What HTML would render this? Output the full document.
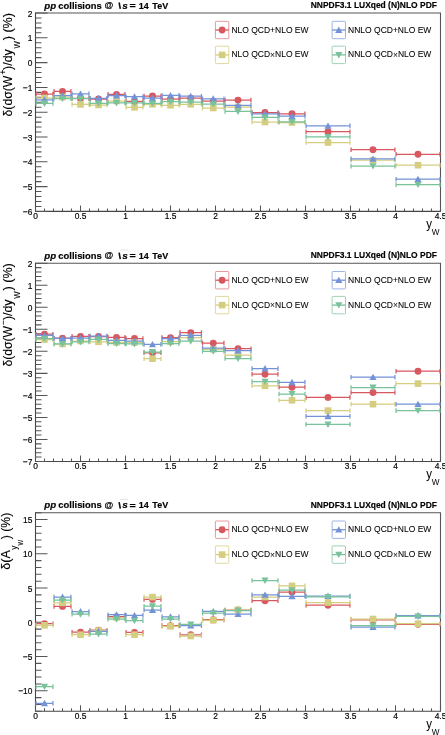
<!DOCTYPE html>
<html><head><meta charset="utf-8"><style>
html,body{margin:0;padding:0;background:#fff;}
body{width:445px;height:735px;overflow:hidden;}
svg{display:block;will-change:transform;font-family:"Liberation Sans",sans-serif;}
</style></head><body>
<svg width="445" height="735" viewBox="0 0 445 735">
<rect width="445" height="735" fill="#fff"/>
<g font-weight="bold" font-size="9.0" stroke="#000" stroke-width="0.15">
<text transform="translate(44.20 8.60) scale(1 1.1)" font-style="italic" textLength="11.9" lengthAdjust="spacingAndGlyphs">pp</text>
<text transform="translate(58.35 8.60) scale(1 1.1)" textLength="43.3" lengthAdjust="spacingAndGlyphs">collisions</text>
<text transform="translate(104.40 8.10) scale(1 1.08)" font-size="9.0">@</text>
<path d="M119.1 2.50L120.3 8.90" stroke="#111" stroke-width="1.6" fill="none"/>
<path d="M120.2 -0.30H128" stroke="#e2e2e2" stroke-width="0.9" fill="none"/>
<text transform="translate(122.30 8.60) scale(1 1.1)" font-style="italic" textLength="5.6" lengthAdjust="spacingAndGlyphs">s</text>
<text transform="translate(129.50 8.90) scale(1 1.1)" textLength="6.3" lengthAdjust="spacingAndGlyphs">=</text>
<text transform="translate(138.64 8.60) scale(1 1.1)" >14</text>
<text transform="translate(152.30 8.60) scale(1 1.1)" >TeV</text>
</g>
<text transform="translate(436.90 8.00) scale(1 1.1)" font-weight="bold" font-size="8.46" text-anchor="end" stroke="#000" stroke-width="0.15">NNPDF3.1 LUXqed (N)NLO PDF</text>
<path d="M35.50 13.00H440.50V211.40" fill="none" stroke="#555" stroke-width="1.1"/>
<path d="M35.50 12.50V211.40H441.00" fill="none" stroke="#454545" stroke-width="1.1"/>
<path d="M35.50 211.40H47.50M35.50 206.44H41.50M35.50 201.48H41.50M35.50 196.52H41.50M35.50 191.56H41.50M35.50 186.60H47.50M35.50 181.64H41.50M35.50 176.68H41.50M35.50 171.72H41.50M35.50 166.76H41.50M35.50 161.80H47.50M35.50 156.84H41.50M35.50 151.88H41.50M35.50 146.92H41.50M35.50 141.96H41.50M35.50 137.00H47.50M35.50 132.04H41.50M35.50 127.08H41.50M35.50 122.12H41.50M35.50 117.16H41.50M35.50 112.20H47.50M35.50 107.24H41.50M35.50 102.28H41.50M35.50 97.32H41.50M35.50 92.36H41.50M35.50 87.40H47.50M35.50 82.44H41.50M35.50 77.48H41.50M35.50 72.52H41.50M35.50 67.56H41.50M35.50 62.60H47.50M35.50 57.64H41.50M35.50 52.68H41.50M35.50 47.72H41.50M35.50 42.76H41.50M35.50 37.80H47.50M35.50 32.84H41.50M35.50 27.88H41.50M35.50 22.92H41.50M35.50 17.96H41.50M35.50 13.00H47.50M35.50 211.40V205.40M44.50 211.40V208.40M53.50 211.40V208.40M62.50 211.40V208.40M71.50 211.40V208.40M80.50 211.40V205.40M89.50 211.40V208.40M98.50 211.40V208.40M107.50 211.40V208.40M116.50 211.40V208.40M125.50 211.40V205.40M134.50 211.40V208.40M143.50 211.40V208.40M152.50 211.40V208.40M161.50 211.40V208.40M170.50 211.40V205.40M179.50 211.40V208.40M188.50 211.40V208.40M197.50 211.40V208.40M206.50 211.40V208.40M215.50 211.40V205.40M224.50 211.40V208.40M233.50 211.40V208.40M242.50 211.40V208.40M251.50 211.40V208.40M260.50 211.40V205.40M269.50 211.40V208.40M278.50 211.40V208.40M287.50 211.40V208.40M296.50 211.40V208.40M305.50 211.40V205.40M314.50 211.40V208.40M323.50 211.40V208.40M332.50 211.40V208.40M341.50 211.40V208.40M350.50 211.40V205.40M359.50 211.40V208.40M368.50 211.40V208.40M377.50 211.40V208.40M386.50 211.40V208.40M395.50 211.40V205.40M404.50 211.40V208.40M413.50 211.40V208.40M422.50 211.40V208.40M431.50 211.40V208.40M440.50 211.40V205.40" stroke="#555555" stroke-width="1.05" fill="none"/>
<g font-size="8.4" stroke="#000" stroke-width="0.16"><text transform="translate(32.40 215.00) scale(1 1.08)" text-anchor="end">−6</text><text transform="translate(32.40 190.20) scale(1 1.08)" text-anchor="end">−5</text><text transform="translate(32.40 165.40) scale(1 1.08)" text-anchor="end">−4</text><text transform="translate(32.40 140.60) scale(1 1.08)" text-anchor="end">−3</text><text transform="translate(32.40 115.80) scale(1 1.08)" text-anchor="end">−2</text><text transform="translate(32.40 91.00) scale(1 1.08)" text-anchor="end">−1</text><text transform="translate(32.40 66.20) scale(1 1.08)" text-anchor="end">0</text><text transform="translate(32.40 41.40) scale(1 1.08)" text-anchor="end">1</text><text transform="translate(32.40 16.60) scale(1 1.08)" text-anchor="end">2</text><text transform="translate(35.50 219.10) scale(1 1.08)" text-anchor="middle">0</text><text transform="translate(80.50 219.10) scale(1 1.08)" text-anchor="middle">0.5</text><text transform="translate(125.50 219.10) scale(1 1.08)" text-anchor="middle">1</text><text transform="translate(170.50 219.10) scale(1 1.08)" text-anchor="middle">1.5</text><text transform="translate(215.50 219.10) scale(1 1.08)" text-anchor="middle">2</text><text transform="translate(260.50 219.10) scale(1 1.08)" text-anchor="middle">2.5</text><text transform="translate(305.50 219.10) scale(1 1.08)" text-anchor="middle">3</text><text transform="translate(350.50 219.10) scale(1 1.08)" text-anchor="middle">3.5</text><text transform="translate(395.50 219.10) scale(1 1.08)" text-anchor="middle">4</text><text transform="translate(440.50 219.10) scale(1 1.08)" text-anchor="middle">4.5</text></g>
<rect x="215.40" y="21.30" width="13.4" height="17.4" rx="0.8" fill="none" stroke="#e79aa0" stroke-width="1"/>
<path d="M215.40 30.00H228.80" stroke="#d85860" stroke-width="1.3"/>
<circle cx="222.10" cy="30.00" r="3.45" fill="#d85860"/>
<text transform="translate(231.40 32.50) scale(1 1.05)" font-size="8.5" stroke="#000" stroke-width="0.06">NLO QCD+NLO EW</text>
<rect x="332.10" y="21.30" width="13.4" height="17.4" rx="0.8" fill="none" stroke="#9fb5e6" stroke-width="1"/>
<path d="M332.10 30.00H345.50" stroke="#7493d7" stroke-width="1.3"/>
<path d="M338.80 26.50L342.40 32.90L335.20 32.90Z" fill="#7493d7"/>
<text transform="translate(348.10 32.50) scale(1 1.05)" font-size="8.5" stroke="#000" stroke-width="0.06">NNLO QCD+NLO EW</text>
<rect x="215.40" y="46.20" width="13.4" height="17.4" rx="0.8" fill="none" stroke="#e0d99c" stroke-width="1"/>
<path d="M215.40 54.90H228.80" stroke="#d5cd80" stroke-width="1.3"/>
<rect x="218.80" y="51.60" width="6.60" height="6.60" fill="#d5cd80"/>
<text transform="translate(231.40 57.40) scale(1 1.05)" font-size="8.5" stroke="#000" stroke-width="0.06">NLO QCD<tspan dy="0.4" stroke-width="0">×</tspan><tspan dy="-0.4">NLO EW</tspan></text>
<rect x="332.10" y="46.20" width="13.4" height="17.4" rx="0.8" fill="none" stroke="#9fd3b6" stroke-width="1"/>
<path d="M332.10 54.90H345.50" stroke="#79c29c" stroke-width="1.3"/>
<path d="M338.80 58.40L342.40 52.00L335.20 52.00Z" fill="#79c29c"/>
<text transform="translate(348.10 57.40) scale(1 1.05)" font-size="8.5" stroke="#000" stroke-width="0.06">NNLO QCD<tspan dy="0.4" stroke-width="0">×</tspan><tspan dy="-0.4">NLO EW</tspan></text>
<g><path d="M35.50 94.00H53.50M36.05 91.70V96.30M52.95 91.70V96.30M53.50 91.40H71.50M54.05 89.10V93.70M70.95 89.10V93.70M71.50 98.40H89.50M72.05 96.10V100.70M88.95 96.10V100.70M89.50 99.00H107.50M90.05 96.70V101.30M106.95 96.70V101.30M107.50 94.40H125.50M108.05 92.10V96.70M124.95 92.10V96.70M125.50 101.40H143.50M126.05 99.10V103.70M142.95 99.10V103.70M143.50 96.00H161.50M144.05 93.70V98.30M160.95 93.70V98.30M161.50 99.00H179.50M162.05 96.70V101.30M178.95 96.70V101.30M179.50 98.20H202.00M180.05 95.90V100.50M201.45 95.90V100.50M202.00 101.20H224.50M202.55 98.90V103.50M223.95 98.90V103.50M224.50 100.10H251.50M225.05 97.80V102.40M250.95 97.80V102.40M251.50 112.50H278.50M252.05 110.20V114.80M277.95 110.20V114.80M278.50 113.75H305.50M279.05 111.45V116.05M304.95 111.45V116.05M305.50 131.70H350.50M306.05 129.40V134.00M349.95 129.40V134.00M350.50 149.70H395.50M351.05 147.40V152.00M394.95 147.40V152.00M395.50 154.30H440.50M396.05 152.00V156.60M439.95 152.00V156.60" stroke="#d85860" stroke-width="1.25" fill="none"/><circle cx="44.50" cy="94.00" r="3.45" fill="#d85860"/><circle cx="62.50" cy="91.40" r="3.45" fill="#d85860"/><circle cx="80.50" cy="98.40" r="3.45" fill="#d85860"/><circle cx="98.50" cy="99.00" r="3.45" fill="#d85860"/><circle cx="116.50" cy="94.40" r="3.45" fill="#d85860"/><circle cx="134.50" cy="101.40" r="3.45" fill="#d85860"/><circle cx="152.50" cy="96.00" r="3.45" fill="#d85860"/><circle cx="170.50" cy="99.00" r="3.45" fill="#d85860"/><circle cx="190.75" cy="98.20" r="3.45" fill="#d85860"/><circle cx="213.25" cy="101.20" r="3.45" fill="#d85860"/><circle cx="238.00" cy="100.10" r="3.45" fill="#d85860"/><circle cx="265.00" cy="112.50" r="3.45" fill="#d85860"/><circle cx="292.00" cy="113.75" r="3.45" fill="#d85860"/><circle cx="328.00" cy="131.70" r="3.45" fill="#d85860"/><circle cx="373.00" cy="149.70" r="3.45" fill="#d85860"/><circle cx="418.00" cy="154.30" r="3.45" fill="#d85860"/></g>
<g><path d="M35.50 98.00H53.50M36.05 95.70V100.30M52.95 95.70V100.30M53.50 97.10H71.50M54.05 94.80V99.40M70.95 94.80V99.40M71.50 104.40H89.50M72.05 102.10V106.70M88.95 102.10V106.70M89.50 105.00H107.50M90.05 102.70V107.30M106.95 102.70V107.30M107.50 101.00H125.50M108.05 98.70V103.30M124.95 98.70V103.30M125.50 107.30H143.50M126.05 105.00V109.60M142.95 105.00V109.60M143.50 104.30H161.50M144.05 102.00V106.60M160.95 102.00V106.60M161.50 105.30H179.50M162.05 103.00V107.60M178.95 103.00V107.60M179.50 104.30H202.00M180.05 102.00V106.60M201.45 102.00V106.60M202.00 108.00H224.50M202.55 105.70V110.30M223.95 105.70V110.30M224.50 107.00H251.50M225.05 104.70V109.30M250.95 104.70V109.30M251.50 122.00H278.50M252.05 119.70V124.30M277.95 119.70V124.30M278.50 122.50H305.50M279.05 120.20V124.80M304.95 120.20V124.80M305.50 142.50H350.50M306.05 140.20V144.80M349.95 140.20V144.80M350.50 160.20H395.50M351.05 157.90V162.50M394.95 157.90V162.50M395.50 165.20H440.50M396.05 162.90V167.50M439.95 162.90V167.50" stroke="#d5cd80" stroke-width="1.25" fill="none"/><rect x="41.20" y="94.70" width="6.60" height="6.60" fill="#d5cd80"/><rect x="59.20" y="93.80" width="6.60" height="6.60" fill="#d5cd80"/><rect x="77.20" y="101.10" width="6.60" height="6.60" fill="#d5cd80"/><rect x="95.20" y="101.70" width="6.60" height="6.60" fill="#d5cd80"/><rect x="113.20" y="97.70" width="6.60" height="6.60" fill="#d5cd80"/><rect x="131.20" y="104.00" width="6.60" height="6.60" fill="#d5cd80"/><rect x="149.20" y="101.00" width="6.60" height="6.60" fill="#d5cd80"/><rect x="167.20" y="102.00" width="6.60" height="6.60" fill="#d5cd80"/><rect x="187.45" y="101.00" width="6.60" height="6.60" fill="#d5cd80"/><rect x="209.95" y="104.70" width="6.60" height="6.60" fill="#d5cd80"/><rect x="234.70" y="103.70" width="6.60" height="6.60" fill="#d5cd80"/><rect x="261.70" y="118.70" width="6.60" height="6.60" fill="#d5cd80"/><rect x="288.70" y="119.20" width="6.60" height="6.60" fill="#d5cd80"/><rect x="324.70" y="139.20" width="6.60" height="6.60" fill="#d5cd80"/><rect x="369.70" y="156.90" width="6.60" height="6.60" fill="#d5cd80"/><rect x="414.70" y="161.90" width="6.60" height="6.60" fill="#d5cd80"/></g>
<g><path d="M35.50 99.80H53.50M36.05 97.50V102.10M52.95 97.50V102.10M53.50 95.70H71.50M54.05 93.40V98.00M70.95 93.40V98.00M71.50 93.90H89.50M72.05 91.60V96.20M88.95 91.60V96.20M89.50 98.30H107.50M90.05 96.00V100.60M106.95 96.00V100.60M107.50 95.60H125.50M108.05 93.30V97.90M124.95 93.30V97.90M125.50 96.70H143.50M126.05 94.40V99.00M142.95 94.40V99.00M143.50 98.20H161.50M144.05 95.90V100.50M160.95 95.90V100.50M161.50 95.40H179.50M162.05 93.10V97.70M178.95 93.10V97.70M179.50 96.20H202.00M180.05 93.90V98.50M201.45 93.90V98.50M202.00 98.80H224.50M202.55 96.50V101.10M223.95 96.50V101.10M224.50 105.40H251.50M225.05 103.10V107.70M250.95 103.10V107.70M251.50 113.80H278.50M252.05 111.50V116.10M277.95 111.50V116.10M278.50 116.20H305.50M279.05 113.90V118.50M304.95 113.90V118.50M305.50 125.90H350.50M306.05 123.60V128.20M349.95 123.60V128.20M350.50 158.90H395.50M351.05 156.60V161.20M394.95 156.60V161.20M395.50 179.20H440.50M396.05 176.90V181.50M439.95 176.90V181.50" stroke="#7493d7" stroke-width="1.25" fill="none"/><path d="M44.50 96.30L48.10 102.70L40.90 102.70Z" fill="#7493d7"/><path d="M62.50 92.20L66.10 98.60L58.90 98.60Z" fill="#7493d7"/><path d="M80.50 90.40L84.10 96.80L76.90 96.80Z" fill="#7493d7"/><path d="M98.50 94.80L102.10 101.20L94.90 101.20Z" fill="#7493d7"/><path d="M116.50 92.10L120.10 98.50L112.90 98.50Z" fill="#7493d7"/><path d="M134.50 93.20L138.10 99.60L130.90 99.60Z" fill="#7493d7"/><path d="M152.50 94.70L156.10 101.10L148.90 101.10Z" fill="#7493d7"/><path d="M170.50 91.90L174.10 98.30L166.90 98.30Z" fill="#7493d7"/><path d="M190.75 92.70L194.35 99.10L187.15 99.10Z" fill="#7493d7"/><path d="M213.25 95.30L216.85 101.70L209.65 101.70Z" fill="#7493d7"/><path d="M238.00 101.90L241.60 108.30L234.40 108.30Z" fill="#7493d7"/><path d="M265.00 110.30L268.60 116.70L261.40 116.70Z" fill="#7493d7"/><path d="M292.00 112.70L295.60 119.10L288.40 119.10Z" fill="#7493d7"/><path d="M328.00 122.40L331.60 128.80L324.40 128.80Z" fill="#7493d7"/><path d="M373.00 155.40L376.60 161.80L369.40 161.80Z" fill="#7493d7"/><path d="M418.00 175.70L421.60 182.10L414.40 182.10Z" fill="#7493d7"/></g>
<g><path d="M35.50 103.40H53.50M36.05 101.10V105.70M52.95 101.10V105.70M53.50 98.60H71.50M54.05 96.30V100.90M70.95 96.30V100.90M71.50 98.60H89.50M72.05 96.30V100.90M88.95 96.30V100.90M89.50 103.30H107.50M90.05 101.00V105.60M106.95 101.00V105.60M107.50 102.90H125.50M108.05 100.60V105.20M124.95 100.60V105.20M125.50 102.90H143.50M126.05 100.60V105.20M142.95 100.60V105.20M143.50 103.30H161.50M144.05 101.00V105.60M160.95 101.00V105.60M161.50 101.70H179.50M162.05 99.40V104.00M178.95 99.40V104.00M179.50 102.20H202.00M180.05 99.90V104.50M201.45 99.90V104.50M202.00 104.10H224.50M202.55 101.80V106.40M223.95 101.80V106.40M224.50 111.40H251.50M225.05 109.10V113.70M250.95 109.10V113.70M251.50 117.40H278.50M252.05 115.10V119.70M277.95 115.10V119.70M278.50 121.80H305.50M279.05 119.50V124.10M304.95 119.50V124.10M305.50 136.90H350.50M306.05 134.60V139.20M349.95 134.60V139.20M350.50 166.10H395.50M351.05 163.80V168.40M394.95 163.80V168.40M395.50 184.60H440.50M396.05 182.30V186.90M439.95 182.30V186.90" stroke="#79c29c" stroke-width="1.25" fill="none"/><path d="M44.50 106.90L48.10 100.50L40.90 100.50Z" fill="#79c29c"/><path d="M62.50 102.10L66.10 95.70L58.90 95.70Z" fill="#79c29c"/><path d="M80.50 102.10L84.10 95.70L76.90 95.70Z" fill="#79c29c"/><path d="M98.50 106.80L102.10 100.40L94.90 100.40Z" fill="#79c29c"/><path d="M116.50 106.40L120.10 100.00L112.90 100.00Z" fill="#79c29c"/><path d="M134.50 106.40L138.10 100.00L130.90 100.00Z" fill="#79c29c"/><path d="M152.50 106.80L156.10 100.40L148.90 100.40Z" fill="#79c29c"/><path d="M170.50 105.20L174.10 98.80L166.90 98.80Z" fill="#79c29c"/><path d="M190.75 105.70L194.35 99.30L187.15 99.30Z" fill="#79c29c"/><path d="M213.25 107.60L216.85 101.20L209.65 101.20Z" fill="#79c29c"/><path d="M238.00 114.90L241.60 108.50L234.40 108.50Z" fill="#79c29c"/><path d="M265.00 120.90L268.60 114.50L261.40 114.50Z" fill="#79c29c"/><path d="M292.00 125.30L295.60 118.90L288.40 118.90Z" fill="#79c29c"/><path d="M328.00 140.40L331.60 134.00L324.40 134.00Z" fill="#79c29c"/><path d="M373.00 169.60L376.60 163.20L369.40 163.20Z" fill="#79c29c"/><path d="M418.00 188.10L421.60 181.70L414.40 181.70Z" fill="#79c29c"/></g>
<g transform="translate(12.30 0) rotate(-90)" stroke="#000" stroke-width="0.14">
<text x="-116.40" y="0.00" font-size="13.0" textLength="40.6" lengthAdjust="spacingAndGlyphs">δ(dσ(W</text>
<text x="-74.50" y="-6.60" font-size="8.3">+</text>
<text x="-69.90" y="0.00" font-size="13.0" textLength="20.6" lengthAdjust="spacingAndGlyphs">)/dy</text>
<text x="-48.60" y="7.20" font-size="9.2" textLength="7.4" lengthAdjust="spacingAndGlyphs">W</text>
<text x="-40.20" y="0.00" font-size="13.0" textLength="27.1" lengthAdjust="spacingAndGlyphs">) (%)</text>
</g>
<text transform="translate(426.20 227.80) scale(1 1.05)" font-size="11.5">y</text><text transform="translate(431.80 234.90) scale(1 1.1)" font-size="8.2">W</text>
<g font-weight="bold" font-size="9.0" stroke="#000" stroke-width="0.15">
<text transform="translate(44.20 258.80) scale(1 1.1)" font-style="italic" textLength="11.9" lengthAdjust="spacingAndGlyphs">pp</text>
<text transform="translate(58.35 258.80) scale(1 1.1)" textLength="43.3" lengthAdjust="spacingAndGlyphs">collisions</text>
<text transform="translate(104.40 258.30) scale(1 1.08)" font-size="9.0">@</text>
<path d="M119.1 252.70L120.3 259.10" stroke="#111" stroke-width="1.6" fill="none"/>
<path d="M120.2 249.90H128" stroke="#e2e2e2" stroke-width="0.9" fill="none"/>
<text transform="translate(122.30 258.80) scale(1 1.1)" font-style="italic" textLength="5.6" lengthAdjust="spacingAndGlyphs">s</text>
<text transform="translate(129.50 259.10) scale(1 1.1)" textLength="6.3" lengthAdjust="spacingAndGlyphs">=</text>
<text transform="translate(138.64 258.80) scale(1 1.1)" >14</text>
<text transform="translate(152.30 258.80) scale(1 1.1)" >TeV</text>
</g>
<text transform="translate(436.90 258.20) scale(1 1.1)" font-weight="bold" font-size="8.46" text-anchor="end" stroke="#000" stroke-width="0.15">NNPDF3.1 LUXqed (N)NLO PDF</text>
<path d="M35.50 263.20H440.50V461.50" fill="none" stroke="#555" stroke-width="1.1"/>
<path d="M35.50 262.70V461.50H441.00" fill="none" stroke="#454545" stroke-width="1.1"/>
<path d="M35.50 461.50H47.50M35.50 457.09H41.50M35.50 452.69H41.50M35.50 448.28H41.50M35.50 443.87H41.50M35.50 439.47H47.50M35.50 435.06H41.50M35.50 430.65H41.50M35.50 426.25H41.50M35.50 421.84H41.50M35.50 417.43H47.50M35.50 413.03H41.50M35.50 408.62H41.50M35.50 404.21H41.50M35.50 399.81H41.50M35.50 395.40H47.50M35.50 390.99H41.50M35.50 386.59H41.50M35.50 382.18H41.50M35.50 377.77H41.50M35.50 373.37H47.50M35.50 368.96H41.50M35.50 364.55H41.50M35.50 360.15H41.50M35.50 355.74H41.50M35.50 351.33H47.50M35.50 346.93H41.50M35.50 342.52H41.50M35.50 338.11H41.50M35.50 333.71H41.50M35.50 329.30H47.50M35.50 324.89H41.50M35.50 320.49H41.50M35.50 316.08H41.50M35.50 311.67H41.50M35.50 307.27H47.50M35.50 302.86H41.50M35.50 298.45H41.50M35.50 294.05H41.50M35.50 289.64H41.50M35.50 285.23H47.50M35.50 280.83H41.50M35.50 276.42H41.50M35.50 272.01H41.50M35.50 267.61H41.50M35.50 263.20H47.50M35.50 461.50V455.50M44.50 461.50V458.50M53.50 461.50V458.50M62.50 461.50V458.50M71.50 461.50V458.50M80.50 461.50V455.50M89.50 461.50V458.50M98.50 461.50V458.50M107.50 461.50V458.50M116.50 461.50V458.50M125.50 461.50V455.50M134.50 461.50V458.50M143.50 461.50V458.50M152.50 461.50V458.50M161.50 461.50V458.50M170.50 461.50V455.50M179.50 461.50V458.50M188.50 461.50V458.50M197.50 461.50V458.50M206.50 461.50V458.50M215.50 461.50V455.50M224.50 461.50V458.50M233.50 461.50V458.50M242.50 461.50V458.50M251.50 461.50V458.50M260.50 461.50V455.50M269.50 461.50V458.50M278.50 461.50V458.50M287.50 461.50V458.50M296.50 461.50V458.50M305.50 461.50V455.50M314.50 461.50V458.50M323.50 461.50V458.50M332.50 461.50V458.50M341.50 461.50V458.50M350.50 461.50V455.50M359.50 461.50V458.50M368.50 461.50V458.50M377.50 461.50V458.50M386.50 461.50V458.50M395.50 461.50V455.50M404.50 461.50V458.50M413.50 461.50V458.50M422.50 461.50V458.50M431.50 461.50V458.50M440.50 461.50V455.50" stroke="#555555" stroke-width="1.05" fill="none"/>
<g font-size="8.4" stroke="#000" stroke-width="0.16"><text transform="translate(32.40 465.10) scale(1 1.08)" text-anchor="end">−7</text><text transform="translate(32.40 443.07) scale(1 1.08)" text-anchor="end">−6</text><text transform="translate(32.40 421.03) scale(1 1.08)" text-anchor="end">−5</text><text transform="translate(32.40 399.00) scale(1 1.08)" text-anchor="end">−4</text><text transform="translate(32.40 376.97) scale(1 1.08)" text-anchor="end">−3</text><text transform="translate(32.40 354.93) scale(1 1.08)" text-anchor="end">−2</text><text transform="translate(32.40 332.90) scale(1 1.08)" text-anchor="end">−1</text><text transform="translate(32.40 310.87) scale(1 1.08)" text-anchor="end">0</text><text transform="translate(32.40 288.83) scale(1 1.08)" text-anchor="end">1</text><text transform="translate(32.40 266.80) scale(1 1.08)" text-anchor="end">2</text><text transform="translate(35.50 469.20) scale(1 1.08)" text-anchor="middle">0</text><text transform="translate(80.50 469.20) scale(1 1.08)" text-anchor="middle">0.5</text><text transform="translate(125.50 469.20) scale(1 1.08)" text-anchor="middle">1</text><text transform="translate(170.50 469.20) scale(1 1.08)" text-anchor="middle">1.5</text><text transform="translate(215.50 469.20) scale(1 1.08)" text-anchor="middle">2</text><text transform="translate(260.50 469.20) scale(1 1.08)" text-anchor="middle">2.5</text><text transform="translate(305.50 469.20) scale(1 1.08)" text-anchor="middle">3</text><text transform="translate(350.50 469.20) scale(1 1.08)" text-anchor="middle">3.5</text><text transform="translate(395.50 469.20) scale(1 1.08)" text-anchor="middle">4</text><text transform="translate(440.50 469.20) scale(1 1.08)" text-anchor="middle">4.5</text></g>
<rect x="215.40" y="271.50" width="13.4" height="17.4" rx="0.8" fill="none" stroke="#e79aa0" stroke-width="1"/>
<path d="M215.40 280.20H228.80" stroke="#d85860" stroke-width="1.3"/>
<circle cx="222.10" cy="280.20" r="3.45" fill="#d85860"/>
<text transform="translate(231.40 282.70) scale(1 1.05)" font-size="8.5" stroke="#000" stroke-width="0.06">NLO QCD+NLO EW</text>
<rect x="332.10" y="271.50" width="13.4" height="17.4" rx="0.8" fill="none" stroke="#9fb5e6" stroke-width="1"/>
<path d="M332.10 280.20H345.50" stroke="#7493d7" stroke-width="1.3"/>
<path d="M338.80 276.70L342.40 283.10L335.20 283.10Z" fill="#7493d7"/>
<text transform="translate(348.10 282.70) scale(1 1.05)" font-size="8.5" stroke="#000" stroke-width="0.06">NNLO QCD+NLO EW</text>
<rect x="215.40" y="296.40" width="13.4" height="17.4" rx="0.8" fill="none" stroke="#e0d99c" stroke-width="1"/>
<path d="M215.40 305.10H228.80" stroke="#d5cd80" stroke-width="1.3"/>
<rect x="218.80" y="301.80" width="6.60" height="6.60" fill="#d5cd80"/>
<text transform="translate(231.40 307.60) scale(1 1.05)" font-size="8.5" stroke="#000" stroke-width="0.06">NLO QCD<tspan dy="0.4" stroke-width="0">×</tspan><tspan dy="-0.4">NLO EW</tspan></text>
<rect x="332.10" y="296.40" width="13.4" height="17.4" rx="0.8" fill="none" stroke="#9fd3b6" stroke-width="1"/>
<path d="M332.10 305.10H345.50" stroke="#79c29c" stroke-width="1.3"/>
<path d="M338.80 308.60L342.40 302.20L335.20 302.20Z" fill="#79c29c"/>
<text transform="translate(348.10 307.60) scale(1 1.05)" font-size="8.5" stroke="#000" stroke-width="0.06">NNLO QCD<tspan dy="0.4" stroke-width="0">×</tspan><tspan dy="-0.4">NLO EW</tspan></text>
<g><path d="M35.50 334.20H53.50M36.05 331.90V336.50M52.95 331.90V336.50M53.50 338.20H71.50M54.05 335.90V340.50M70.95 335.90V340.50M71.50 336.40H89.50M72.05 334.10V338.70M88.95 334.10V338.70M89.50 336.50H107.50M90.05 334.20V338.80M106.95 334.20V338.80M107.50 337.40H125.50M108.05 335.10V339.70M124.95 335.10V339.70M125.50 338.50H143.50M126.05 336.20V340.80M142.95 336.20V340.80M143.50 352.80H161.50M144.05 350.50V355.10M160.95 350.50V355.10M161.50 337.60H179.50M162.05 335.30V339.90M178.95 335.30V339.90M179.50 332.60H202.00M180.05 330.30V334.90M201.45 330.30V334.90M202.00 343.10H224.50M202.55 340.80V345.40M223.95 340.80V345.40M224.50 348.70H251.50M225.05 346.40V351.00M250.95 346.40V351.00M251.50 374.20H278.50M252.05 371.90V376.50M277.95 371.90V376.50M278.50 387.20H305.50M279.05 384.90V389.50M304.95 384.90V389.50M305.50 397.40H350.50M306.05 395.10V399.70M349.95 395.10V399.70M350.50 392.50H395.50M351.05 390.20V394.80M394.95 390.20V394.80M395.50 371.20H440.50M396.05 368.90V373.50M439.95 368.90V373.50" stroke="#d85860" stroke-width="1.25" fill="none"/><circle cx="44.50" cy="334.20" r="3.45" fill="#d85860"/><circle cx="62.50" cy="338.20" r="3.45" fill="#d85860"/><circle cx="80.50" cy="336.40" r="3.45" fill="#d85860"/><circle cx="98.50" cy="336.50" r="3.45" fill="#d85860"/><circle cx="116.50" cy="337.40" r="3.45" fill="#d85860"/><circle cx="134.50" cy="338.50" r="3.45" fill="#d85860"/><circle cx="152.50" cy="352.80" r="3.45" fill="#d85860"/><circle cx="170.50" cy="337.60" r="3.45" fill="#d85860"/><circle cx="190.75" cy="332.60" r="3.45" fill="#d85860"/><circle cx="213.25" cy="343.10" r="3.45" fill="#d85860"/><circle cx="238.00" cy="348.70" r="3.45" fill="#d85860"/><circle cx="265.00" cy="374.20" r="3.45" fill="#d85860"/><circle cx="292.00" cy="387.20" r="3.45" fill="#d85860"/><circle cx="328.00" cy="397.40" r="3.45" fill="#d85860"/><circle cx="373.00" cy="392.50" r="3.45" fill="#d85860"/><circle cx="418.00" cy="371.20" r="3.45" fill="#d85860"/></g>
<g><path d="M35.50 339.50H53.50M36.05 337.20V341.80M52.95 337.20V341.80M53.50 344.00H71.50M54.05 341.70V346.30M70.95 341.70V346.30M71.50 341.00H89.50M72.05 338.70V343.30M88.95 338.70V343.30M89.50 341.80H107.50M90.05 339.50V344.10M106.95 339.50V344.10M107.50 342.40H125.50M108.05 340.10V344.70M124.95 340.10V344.70M125.50 342.50H143.50M126.05 340.20V344.80M142.95 340.20V344.80M143.50 358.70H161.50M144.05 356.40V361.00M160.95 356.40V361.00M161.50 341.70H179.50M162.05 339.40V344.00M178.95 339.40V344.00M179.50 337.60H202.00M180.05 335.30V339.90M201.45 335.30V339.90M202.00 349.30H224.50M202.55 347.00V351.60M223.95 347.00V351.60M224.50 355.20H251.50M225.05 352.90V357.50M250.95 352.90V357.50M251.50 385.80H278.50M252.05 383.50V388.10M277.95 383.50V388.10M278.50 400.30H305.50M279.05 398.00V402.60M304.95 398.00V402.60M305.50 410.60H350.50M306.05 408.30V412.90M349.95 408.30V412.90M350.50 404.20H395.50M351.05 401.90V406.50M394.95 401.90V406.50M395.50 383.60H440.50M396.05 381.30V385.90M439.95 381.30V385.90" stroke="#d5cd80" stroke-width="1.25" fill="none"/><rect x="41.20" y="336.20" width="6.60" height="6.60" fill="#d5cd80"/><rect x="59.20" y="340.70" width="6.60" height="6.60" fill="#d5cd80"/><rect x="77.20" y="337.70" width="6.60" height="6.60" fill="#d5cd80"/><rect x="95.20" y="338.50" width="6.60" height="6.60" fill="#d5cd80"/><rect x="113.20" y="339.10" width="6.60" height="6.60" fill="#d5cd80"/><rect x="131.20" y="339.20" width="6.60" height="6.60" fill="#d5cd80"/><rect x="149.20" y="355.40" width="6.60" height="6.60" fill="#d5cd80"/><rect x="167.20" y="338.40" width="6.60" height="6.60" fill="#d5cd80"/><rect x="187.45" y="334.30" width="6.60" height="6.60" fill="#d5cd80"/><rect x="209.95" y="346.00" width="6.60" height="6.60" fill="#d5cd80"/><rect x="234.70" y="351.90" width="6.60" height="6.60" fill="#d5cd80"/><rect x="261.70" y="382.50" width="6.60" height="6.60" fill="#d5cd80"/><rect x="288.70" y="397.00" width="6.60" height="6.60" fill="#d5cd80"/><rect x="324.70" y="407.30" width="6.60" height="6.60" fill="#d5cd80"/><rect x="369.70" y="400.90" width="6.60" height="6.60" fill="#d5cd80"/><rect x="414.70" y="380.30" width="6.60" height="6.60" fill="#d5cd80"/></g>
<g><path d="M35.50 335.40H53.50M36.05 333.10V337.70M52.95 333.10V337.70M53.50 338.40H71.50M54.05 336.10V340.70M70.95 336.10V340.70M71.50 338.10H89.50M72.05 335.80V340.40M88.95 335.80V340.40M89.50 336.10H107.50M90.05 333.80V338.40M106.95 333.80V338.40M107.50 340.40H125.50M108.05 338.10V342.70M124.95 338.10V342.70M125.50 341.20H143.50M126.05 338.90V343.50M142.95 338.90V343.50M143.50 344.40H161.50M144.05 342.10V346.70M160.95 342.10V346.70M161.50 338.60H179.50M162.05 336.30V340.90M178.95 336.30V340.90M179.50 335.30H202.00M180.05 333.00V337.60M201.45 333.00V337.60M202.00 348.00H224.50M202.55 345.70V350.30M223.95 345.70V350.30M224.50 350.60H251.50M225.05 348.30V352.90M250.95 348.30V352.90M251.50 368.60H278.50M252.05 366.30V370.90M277.95 366.30V370.90M278.50 382.30H305.50M279.05 380.00V384.60M304.95 380.00V384.60M305.50 416.30H350.50M306.05 414.00V418.60M349.95 414.00V418.60M350.50 377.20H395.50M351.05 374.90V379.50M394.95 374.90V379.50M395.50 404.20H440.50M396.05 401.90V406.50M439.95 401.90V406.50" stroke="#7493d7" stroke-width="1.25" fill="none"/><path d="M44.50 331.90L48.10 338.30L40.90 338.30Z" fill="#7493d7"/><path d="M62.50 334.90L66.10 341.30L58.90 341.30Z" fill="#7493d7"/><path d="M80.50 334.60L84.10 341.00L76.90 341.00Z" fill="#7493d7"/><path d="M98.50 332.60L102.10 339.00L94.90 339.00Z" fill="#7493d7"/><path d="M116.50 336.90L120.10 343.30L112.90 343.30Z" fill="#7493d7"/><path d="M134.50 337.70L138.10 344.10L130.90 344.10Z" fill="#7493d7"/><path d="M152.50 340.90L156.10 347.30L148.90 347.30Z" fill="#7493d7"/><path d="M170.50 335.10L174.10 341.50L166.90 341.50Z" fill="#7493d7"/><path d="M190.75 331.80L194.35 338.20L187.15 338.20Z" fill="#7493d7"/><path d="M213.25 344.50L216.85 350.90L209.65 350.90Z" fill="#7493d7"/><path d="M238.00 347.10L241.60 353.50L234.40 353.50Z" fill="#7493d7"/><path d="M265.00 365.10L268.60 371.50L261.40 371.50Z" fill="#7493d7"/><path d="M292.00 378.80L295.60 385.20L288.40 385.20Z" fill="#7493d7"/><path d="M328.00 412.80L331.60 419.20L324.40 419.20Z" fill="#7493d7"/><path d="M373.00 373.70L376.60 380.10L369.40 380.10Z" fill="#7493d7"/><path d="M418.00 400.70L421.60 407.10L414.40 407.10Z" fill="#7493d7"/></g>
<g><path d="M35.50 338.60H53.50M36.05 336.30V340.90M52.95 336.30V340.90M53.50 343.90H71.50M54.05 341.60V346.20M70.95 341.60V346.20M71.50 341.90H89.50M72.05 339.60V344.20M88.95 339.60V344.20M89.50 339.40H107.50M90.05 337.10V341.70M106.95 337.10V341.70M107.50 343.60H125.50M108.05 341.30V345.90M124.95 341.30V345.90M125.50 343.90H143.50M126.05 341.60V346.20M142.95 341.60V346.20M143.50 352.00H161.50M144.05 349.70V354.30M160.95 349.70V354.30M161.50 343.60H179.50M162.05 341.30V345.90M178.95 341.30V345.90M179.50 341.20H202.00M180.05 338.90V343.50M201.45 338.90V343.50M202.00 351.30H224.50M202.55 349.00V353.60M223.95 349.00V353.60M224.50 358.50H251.50M225.05 356.20V360.80M250.95 356.20V360.80M251.50 381.60H278.50M252.05 379.30V383.90M277.95 379.30V383.90M278.50 394.00H305.50M279.05 391.70V396.30M304.95 391.70V396.30M305.50 424.40H350.50M306.05 422.10V426.70M349.95 422.10V426.70M350.50 387.50H395.50M351.05 385.20V389.80M394.95 385.20V389.80M395.50 410.60H440.50M396.05 408.30V412.90M439.95 408.30V412.90" stroke="#79c29c" stroke-width="1.25" fill="none"/><path d="M44.50 342.10L48.10 335.70L40.90 335.70Z" fill="#79c29c"/><path d="M62.50 347.40L66.10 341.00L58.90 341.00Z" fill="#79c29c"/><path d="M80.50 345.40L84.10 339.00L76.90 339.00Z" fill="#79c29c"/><path d="M98.50 342.90L102.10 336.50L94.90 336.50Z" fill="#79c29c"/><path d="M116.50 347.10L120.10 340.70L112.90 340.70Z" fill="#79c29c"/><path d="M134.50 347.40L138.10 341.00L130.90 341.00Z" fill="#79c29c"/><path d="M152.50 355.50L156.10 349.10L148.90 349.10Z" fill="#79c29c"/><path d="M170.50 347.10L174.10 340.70L166.90 340.70Z" fill="#79c29c"/><path d="M190.75 344.70L194.35 338.30L187.15 338.30Z" fill="#79c29c"/><path d="M213.25 354.80L216.85 348.40L209.65 348.40Z" fill="#79c29c"/><path d="M238.00 362.00L241.60 355.60L234.40 355.60Z" fill="#79c29c"/><path d="M265.00 385.10L268.60 378.70L261.40 378.70Z" fill="#79c29c"/><path d="M292.00 397.50L295.60 391.10L288.40 391.10Z" fill="#79c29c"/><path d="M328.00 427.90L331.60 421.50L324.40 421.50Z" fill="#79c29c"/><path d="M373.00 391.00L376.60 384.60L369.40 384.60Z" fill="#79c29c"/><path d="M418.00 414.10L421.60 407.70L414.40 407.70Z" fill="#79c29c"/></g>
<g transform="translate(12.30 0) rotate(-90)" stroke="#000" stroke-width="0.14">
<text x="-366.60" y="0.00" font-size="13.0" textLength="40.6" lengthAdjust="spacingAndGlyphs">δ(dσ(W</text>
<text x="-324.70" y="-6.60" font-size="8.3">−</text>
<text x="-320.10" y="0.00" font-size="13.0" textLength="20.6" lengthAdjust="spacingAndGlyphs">)/dy</text>
<text x="-298.80" y="7.20" font-size="9.2" textLength="7.4" lengthAdjust="spacingAndGlyphs">W</text>
<text x="-290.40" y="0.00" font-size="13.0" textLength="27.1" lengthAdjust="spacingAndGlyphs">) (%)</text>
</g>
<text transform="translate(426.20 477.90) scale(1 1.05)" font-size="11.5">y</text><text transform="translate(431.80 485.00) scale(1 1.1)" font-size="8.2">W</text>
<g font-weight="bold" font-size="9.0" stroke="#000" stroke-width="0.15">
<text transform="translate(44.20 508.30) scale(1 1.1)" font-style="italic" textLength="11.9" lengthAdjust="spacingAndGlyphs">pp</text>
<text transform="translate(58.35 508.30) scale(1 1.1)" textLength="43.3" lengthAdjust="spacingAndGlyphs">collisions</text>
<text transform="translate(104.40 507.80) scale(1 1.08)" font-size="9.0">@</text>
<path d="M119.1 502.20L120.3 508.60" stroke="#111" stroke-width="1.6" fill="none"/>
<path d="M120.2 499.40H128" stroke="#e2e2e2" stroke-width="0.9" fill="none"/>
<text transform="translate(122.30 508.30) scale(1 1.1)" font-style="italic" textLength="5.6" lengthAdjust="spacingAndGlyphs">s</text>
<text transform="translate(129.50 508.60) scale(1 1.1)" textLength="6.3" lengthAdjust="spacingAndGlyphs">=</text>
<text transform="translate(138.64 508.30) scale(1 1.1)" >14</text>
<text transform="translate(152.30 508.30) scale(1 1.1)" >TeV</text>
</g>
<text transform="translate(436.90 507.70) scale(1 1.1)" font-weight="bold" font-size="8.46" text-anchor="end" stroke="#000" stroke-width="0.15">NNPDF3.1 LUXqed (N)NLO PDF</text>
<path d="M35.50 512.70H440.50V711.30" fill="none" stroke="#555" stroke-width="1.1"/>
<path d="M35.50 512.20V711.30H441.00" fill="none" stroke="#454545" stroke-width="1.1"/>
<path d="M35.50 711.30H41.50M35.50 704.45H41.50M35.50 697.60H41.50M35.50 690.76H47.50M35.50 683.91H41.50M35.50 677.06H41.50M35.50 670.21H41.50M35.50 663.36H41.50M35.50 656.51H47.50M35.50 649.67H41.50M35.50 642.82H41.50M35.50 635.97H41.50M35.50 629.12H41.50M35.50 622.27H47.50M35.50 615.42H41.50M35.50 608.58H41.50M35.50 601.73H41.50M35.50 594.88H41.50M35.50 588.03H47.50M35.50 581.18H41.50M35.50 574.33H41.50M35.50 567.49H41.50M35.50 560.64H41.50M35.50 553.79H47.50M35.50 546.94H41.50M35.50 540.09H41.50M35.50 533.24H41.50M35.50 526.40H41.50M35.50 519.55H47.50M35.50 512.70H41.50M35.50 711.30V705.30M44.50 711.30V708.30M53.50 711.30V708.30M62.50 711.30V708.30M71.50 711.30V708.30M80.50 711.30V705.30M89.50 711.30V708.30M98.50 711.30V708.30M107.50 711.30V708.30M116.50 711.30V708.30M125.50 711.30V705.30M134.50 711.30V708.30M143.50 711.30V708.30M152.50 711.30V708.30M161.50 711.30V708.30M170.50 711.30V705.30M179.50 711.30V708.30M188.50 711.30V708.30M197.50 711.30V708.30M206.50 711.30V708.30M215.50 711.30V705.30M224.50 711.30V708.30M233.50 711.30V708.30M242.50 711.30V708.30M251.50 711.30V708.30M260.50 711.30V705.30M269.50 711.30V708.30M278.50 711.30V708.30M287.50 711.30V708.30M296.50 711.30V708.30M305.50 711.30V705.30M314.50 711.30V708.30M323.50 711.30V708.30M332.50 711.30V708.30M341.50 711.30V708.30M350.50 711.30V705.30M359.50 711.30V708.30M368.50 711.30V708.30M377.50 711.30V708.30M386.50 711.30V708.30M395.50 711.30V705.30M404.50 711.30V708.30M413.50 711.30V708.30M422.50 711.30V708.30M431.50 711.30V708.30M440.50 711.30V705.30" stroke="#555555" stroke-width="1.05" fill="none"/>
<g font-size="8.4" stroke="#000" stroke-width="0.16"><text transform="translate(32.40 694.36) scale(1 1.08)" text-anchor="end">−10</text><text transform="translate(32.40 660.11) scale(1 1.08)" text-anchor="end">−5</text><text transform="translate(32.40 625.87) scale(1 1.08)" text-anchor="end">0</text><text transform="translate(32.40 591.63) scale(1 1.08)" text-anchor="end">5</text><text transform="translate(32.40 557.39) scale(1 1.08)" text-anchor="end">10</text><text transform="translate(32.40 523.15) scale(1 1.08)" text-anchor="end">15</text><text transform="translate(35.50 719.00) scale(1 1.08)" text-anchor="middle">0</text><text transform="translate(80.50 719.00) scale(1 1.08)" text-anchor="middle">0.5</text><text transform="translate(125.50 719.00) scale(1 1.08)" text-anchor="middle">1</text><text transform="translate(170.50 719.00) scale(1 1.08)" text-anchor="middle">1.5</text><text transform="translate(215.50 719.00) scale(1 1.08)" text-anchor="middle">2</text><text transform="translate(260.50 719.00) scale(1 1.08)" text-anchor="middle">2.5</text><text transform="translate(305.50 719.00) scale(1 1.08)" text-anchor="middle">3</text><text transform="translate(350.50 719.00) scale(1 1.08)" text-anchor="middle">3.5</text><text transform="translate(395.50 719.00) scale(1 1.08)" text-anchor="middle">4</text><text transform="translate(440.50 719.00) scale(1 1.08)" text-anchor="middle">4.5</text></g>
<rect x="215.40" y="521.00" width="13.4" height="17.4" rx="0.8" fill="none" stroke="#e79aa0" stroke-width="1"/>
<path d="M215.40 529.70H228.80" stroke="#d85860" stroke-width="1.3"/>
<circle cx="222.10" cy="529.70" r="3.45" fill="#d85860"/>
<text transform="translate(231.40 532.20) scale(1 1.05)" font-size="8.5" stroke="#000" stroke-width="0.06">NLO QCD+NLO EW</text>
<rect x="332.10" y="521.00" width="13.4" height="17.4" rx="0.8" fill="none" stroke="#9fb5e6" stroke-width="1"/>
<path d="M332.10 529.70H345.50" stroke="#7493d7" stroke-width="1.3"/>
<path d="M338.80 526.20L342.40 532.60L335.20 532.60Z" fill="#7493d7"/>
<text transform="translate(348.10 532.20) scale(1 1.05)" font-size="8.5" stroke="#000" stroke-width="0.06">NNLO QCD+NLO EW</text>
<rect x="215.40" y="545.90" width="13.4" height="17.4" rx="0.8" fill="none" stroke="#e0d99c" stroke-width="1"/>
<path d="M215.40 554.60H228.80" stroke="#d5cd80" stroke-width="1.3"/>
<rect x="218.80" y="551.30" width="6.60" height="6.60" fill="#d5cd80"/>
<text transform="translate(231.40 557.10) scale(1 1.05)" font-size="8.5" stroke="#000" stroke-width="0.06">NLO QCD<tspan dy="0.4" stroke-width="0">×</tspan><tspan dy="-0.4">NLO EW</tspan></text>
<rect x="332.10" y="545.90" width="13.4" height="17.4" rx="0.8" fill="none" stroke="#9fd3b6" stroke-width="1"/>
<path d="M332.10 554.60H345.50" stroke="#79c29c" stroke-width="1.3"/>
<path d="M338.80 558.10L342.40 551.70L335.20 551.70Z" fill="#79c29c"/>
<text transform="translate(348.10 557.10) scale(1 1.05)" font-size="8.5" stroke="#000" stroke-width="0.06">NNLO QCD<tspan dy="0.4" stroke-width="0">×</tspan><tspan dy="-0.4">NLO EW</tspan></text>
<g><path d="M35.50 623.70H53.50M36.05 621.40V626.00M52.95 621.40V626.00M53.50 606.40H71.50M54.05 604.10V608.70M70.95 604.10V608.70M71.50 632.20H89.50M72.05 629.90V634.50M88.95 629.90V634.50M89.50 630.20H107.50M90.05 627.90V632.50M106.95 627.90V632.50M107.50 616.60H125.50M108.05 614.30V618.90M124.95 614.30V618.90M125.50 632.40H143.50M126.05 630.10V634.70M142.95 630.10V634.70M143.50 599.40H161.50M144.05 597.10V601.70M160.95 597.10V601.70M161.50 625.60H179.50M162.05 623.30V627.90M178.95 623.30V627.90M179.50 634.80H202.00M180.05 632.50V637.10M201.45 632.50V637.10M202.00 619.70H224.50M202.55 617.40V622.00M223.95 617.40V622.00M224.50 610.00H251.50M225.05 607.70V612.30M250.95 607.70V612.30M251.50 600.70H278.50M252.05 598.40V603.00M277.95 598.40V603.00M278.50 592.00H305.50M279.05 589.70V594.30M304.95 589.70V594.30M305.50 605.20H350.50M306.05 602.90V607.50M349.95 602.90V607.50M350.50 619.90H395.50M351.05 617.60V622.20M394.95 617.60V622.20M395.50 624.30H440.50M396.05 622.00V626.60M439.95 622.00V626.60" stroke="#d85860" stroke-width="1.25" fill="none"/><circle cx="44.50" cy="623.70" r="3.45" fill="#d85860"/><circle cx="62.50" cy="606.40" r="3.45" fill="#d85860"/><circle cx="80.50" cy="632.20" r="3.45" fill="#d85860"/><circle cx="98.50" cy="630.20" r="3.45" fill="#d85860"/><circle cx="116.50" cy="616.60" r="3.45" fill="#d85860"/><circle cx="134.50" cy="632.40" r="3.45" fill="#d85860"/><circle cx="152.50" cy="599.40" r="3.45" fill="#d85860"/><circle cx="170.50" cy="625.60" r="3.45" fill="#d85860"/><circle cx="190.75" cy="634.80" r="3.45" fill="#d85860"/><circle cx="213.25" cy="619.70" r="3.45" fill="#d85860"/><circle cx="238.00" cy="610.00" r="3.45" fill="#d85860"/><circle cx="265.00" cy="600.70" r="3.45" fill="#d85860"/><circle cx="292.00" cy="592.00" r="3.45" fill="#d85860"/><circle cx="328.00" cy="605.20" r="3.45" fill="#d85860"/><circle cx="373.00" cy="619.90" r="3.45" fill="#d85860"/><circle cx="418.00" cy="624.30" r="3.45" fill="#d85860"/></g>
<g><path d="M35.50 625.30H53.50M36.05 623.00V627.60M52.95 623.00V627.60M53.50 602.90H71.50M54.05 600.60V605.20M70.95 600.60V605.20M71.50 634.70H89.50M72.05 632.40V637.00M88.95 632.40V637.00M89.50 630.50H107.50M90.05 628.20V632.80M106.95 628.20V632.80M107.50 617.50H125.50M108.05 615.20V619.80M124.95 615.20V619.80M125.50 634.70H143.50M126.05 632.40V637.00M142.95 632.40V637.00M143.50 597.10H161.50M144.05 594.80V599.40M160.95 594.80V599.40M161.50 626.30H179.50M162.05 624.00V628.60M178.95 624.00V628.60M179.50 636.00H202.00M180.05 633.70V638.30M201.45 633.70V638.30M202.00 620.30H224.50M202.55 618.00V622.60M223.95 618.00V622.60M224.50 610.00H251.50M225.05 607.70V612.30M250.95 607.70V612.30M251.50 597.00H278.50M252.05 594.70V599.30M277.95 594.70V599.30M278.50 585.90H305.50M279.05 583.60V588.20M304.95 583.60V588.20M305.50 602.60H350.50M306.05 600.30V604.90M349.95 600.30V604.90M350.50 619.00H395.50M351.05 616.70V621.30M394.95 616.70V621.30M395.50 623.70H440.50M396.05 621.40V626.00M439.95 621.40V626.00" stroke="#d5cd80" stroke-width="1.25" fill="none"/><rect x="41.20" y="622.00" width="6.60" height="6.60" fill="#d5cd80"/><rect x="59.20" y="599.60" width="6.60" height="6.60" fill="#d5cd80"/><rect x="77.20" y="631.40" width="6.60" height="6.60" fill="#d5cd80"/><rect x="95.20" y="627.20" width="6.60" height="6.60" fill="#d5cd80"/><rect x="113.20" y="614.20" width="6.60" height="6.60" fill="#d5cd80"/><rect x="131.20" y="631.40" width="6.60" height="6.60" fill="#d5cd80"/><rect x="149.20" y="593.80" width="6.60" height="6.60" fill="#d5cd80"/><rect x="167.20" y="623.00" width="6.60" height="6.60" fill="#d5cd80"/><rect x="187.45" y="632.70" width="6.60" height="6.60" fill="#d5cd80"/><rect x="209.95" y="617.00" width="6.60" height="6.60" fill="#d5cd80"/><rect x="234.70" y="606.70" width="6.60" height="6.60" fill="#d5cd80"/><rect x="261.70" y="593.70" width="6.60" height="6.60" fill="#d5cd80"/><rect x="288.70" y="582.60" width="6.60" height="6.60" fill="#d5cd80"/><rect x="324.70" y="599.30" width="6.60" height="6.60" fill="#d5cd80"/><rect x="369.70" y="615.70" width="6.60" height="6.60" fill="#d5cd80"/><rect x="414.70" y="620.40" width="6.60" height="6.60" fill="#d5cd80"/></g>
<g><path d="M35.50 703.30H53.50M36.05 701.00V705.60M52.95 701.00V705.60M53.50 597.10H71.50M54.05 594.80V599.40M70.95 594.80V599.40M71.50 611.50H89.50M72.05 609.20V613.80M88.95 609.20V613.80M89.50 631.40H107.50M90.05 629.10V633.70M106.95 629.10V633.70M107.50 614.70H125.50M108.05 612.40V617.00M124.95 612.40V617.00M125.50 615.40H143.50M126.05 613.10V617.70M142.95 613.10V617.70M143.50 610.00H161.50M144.05 607.70V612.30M160.95 607.70V612.30M161.50 616.80H179.50M162.05 614.50V619.10M178.95 614.50V619.10M179.50 625.70H202.00M180.05 623.40V628.00M201.45 623.40V628.00M202.00 611.40H224.50M202.55 609.10V613.70M223.95 609.10V613.70M224.50 614.20H251.50M225.05 611.90V616.50M250.95 611.90V616.50M251.50 594.90H278.50M252.05 592.60V597.20M277.95 592.60V597.20M278.50 596.30H305.50M279.05 594.00V598.60M304.95 594.00V598.60M305.50 596.00H350.50M306.05 593.70V598.30M349.95 593.70V598.30M350.50 627.10H395.50M351.05 624.80V629.40M394.95 624.80V629.40M395.50 615.60H440.50M396.05 613.30V617.90M439.95 613.30V617.90" stroke="#7493d7" stroke-width="1.25" fill="none"/><path d="M44.50 699.80L48.10 706.20L40.90 706.20Z" fill="#7493d7"/><path d="M62.50 593.60L66.10 600.00L58.90 600.00Z" fill="#7493d7"/><path d="M80.50 608.00L84.10 614.40L76.90 614.40Z" fill="#7493d7"/><path d="M98.50 627.90L102.10 634.30L94.90 634.30Z" fill="#7493d7"/><path d="M116.50 611.20L120.10 617.60L112.90 617.60Z" fill="#7493d7"/><path d="M134.50 611.90L138.10 618.30L130.90 618.30Z" fill="#7493d7"/><path d="M152.50 606.50L156.10 612.90L148.90 612.90Z" fill="#7493d7"/><path d="M170.50 613.30L174.10 619.70L166.90 619.70Z" fill="#7493d7"/><path d="M190.75 622.20L194.35 628.60L187.15 628.60Z" fill="#7493d7"/><path d="M213.25 607.90L216.85 614.30L209.65 614.30Z" fill="#7493d7"/><path d="M238.00 610.70L241.60 617.10L234.40 617.10Z" fill="#7493d7"/><path d="M265.00 591.40L268.60 597.80L261.40 597.80Z" fill="#7493d7"/><path d="M292.00 592.80L295.60 599.20L288.40 599.20Z" fill="#7493d7"/><path d="M328.00 592.50L331.60 598.90L324.40 598.90Z" fill="#7493d7"/><path d="M373.00 623.60L376.60 630.00L369.40 630.00Z" fill="#7493d7"/><path d="M418.00 612.10L421.60 618.50L414.40 618.50Z" fill="#7493d7"/></g>
<g><path d="M35.50 686.60H53.50M36.05 684.30V688.90M52.95 684.30V688.90M53.50 600.00H71.50M54.05 597.70V602.30M70.95 597.70V602.30M71.50 614.20H89.50M72.05 611.90V616.50M88.95 611.90V616.50M89.50 634.00H107.50M90.05 631.70V636.30M106.95 631.70V636.30M107.50 619.20H125.50M108.05 616.90V621.50M124.95 616.90V621.50M125.50 620.60H143.50M126.05 618.30V622.90M142.95 618.30V622.90M143.50 606.20H161.50M144.05 603.90V608.50M160.95 603.90V608.50M161.50 619.00H179.50M162.05 616.70V621.30M178.95 616.70V621.30M179.50 624.30H202.00M180.05 622.00V626.60M201.45 622.00V626.60M202.00 613.20H224.50M202.55 610.90V615.50M223.95 610.90V615.50M224.50 610.50H251.50M225.05 608.20V612.80M250.95 608.20V612.80M251.50 580.50H278.50M252.05 578.20V582.80M277.95 578.20V582.80M278.50 590.20H305.50M279.05 587.90V592.50M304.95 587.90V592.50M305.50 596.80H350.50M306.05 594.50V599.10M349.95 594.50V599.10M350.50 625.70H395.50M351.05 623.40V628.00M394.95 623.40V628.00M395.50 616.40H440.50M396.05 614.10V618.70M439.95 614.10V618.70" stroke="#79c29c" stroke-width="1.25" fill="none"/><path d="M44.50 690.10L48.10 683.70L40.90 683.70Z" fill="#79c29c"/><path d="M62.50 603.50L66.10 597.10L58.90 597.10Z" fill="#79c29c"/><path d="M80.50 617.70L84.10 611.30L76.90 611.30Z" fill="#79c29c"/><path d="M98.50 637.50L102.10 631.10L94.90 631.10Z" fill="#79c29c"/><path d="M116.50 622.70L120.10 616.30L112.90 616.30Z" fill="#79c29c"/><path d="M134.50 624.10L138.10 617.70L130.90 617.70Z" fill="#79c29c"/><path d="M152.50 609.70L156.10 603.30L148.90 603.30Z" fill="#79c29c"/><path d="M170.50 622.50L174.10 616.10L166.90 616.10Z" fill="#79c29c"/><path d="M190.75 627.80L194.35 621.40L187.15 621.40Z" fill="#79c29c"/><path d="M213.25 616.70L216.85 610.30L209.65 610.30Z" fill="#79c29c"/><path d="M238.00 614.00L241.60 607.60L234.40 607.60Z" fill="#79c29c"/><path d="M265.00 584.00L268.60 577.60L261.40 577.60Z" fill="#79c29c"/><path d="M292.00 593.70L295.60 587.30L288.40 587.30Z" fill="#79c29c"/><path d="M328.00 600.30L331.60 593.90L324.40 593.90Z" fill="#79c29c"/><path d="M373.00 629.20L376.60 622.80L369.40 622.80Z" fill="#79c29c"/><path d="M418.00 619.90L421.60 613.50L414.40 613.50Z" fill="#79c29c"/></g>
<g transform="translate(9.80 0) rotate(-90)" stroke="#000" stroke-width="0.14">
<text x="-569.70" y="0.00" font-size="13.0" textLength="19.5" lengthAdjust="spacingAndGlyphs">δ(A</text>
<text x="-549.80" y="7.20" font-size="8.3">y</text>
<text x="-545.60" y="13.00" font-size="7.2" textLength="5.6" lengthAdjust="spacingAndGlyphs">W</text>
<text x="-539.30" y="0.00" font-size="13.0" textLength="26.6" lengthAdjust="spacingAndGlyphs">) (%)</text>
</g>
<text transform="translate(426.20 727.70) scale(1 1.05)" font-size="11.5">y</text><text transform="translate(431.80 734.80) scale(1 1.1)" font-size="8.2">W</text>
</svg>
</body></html>
